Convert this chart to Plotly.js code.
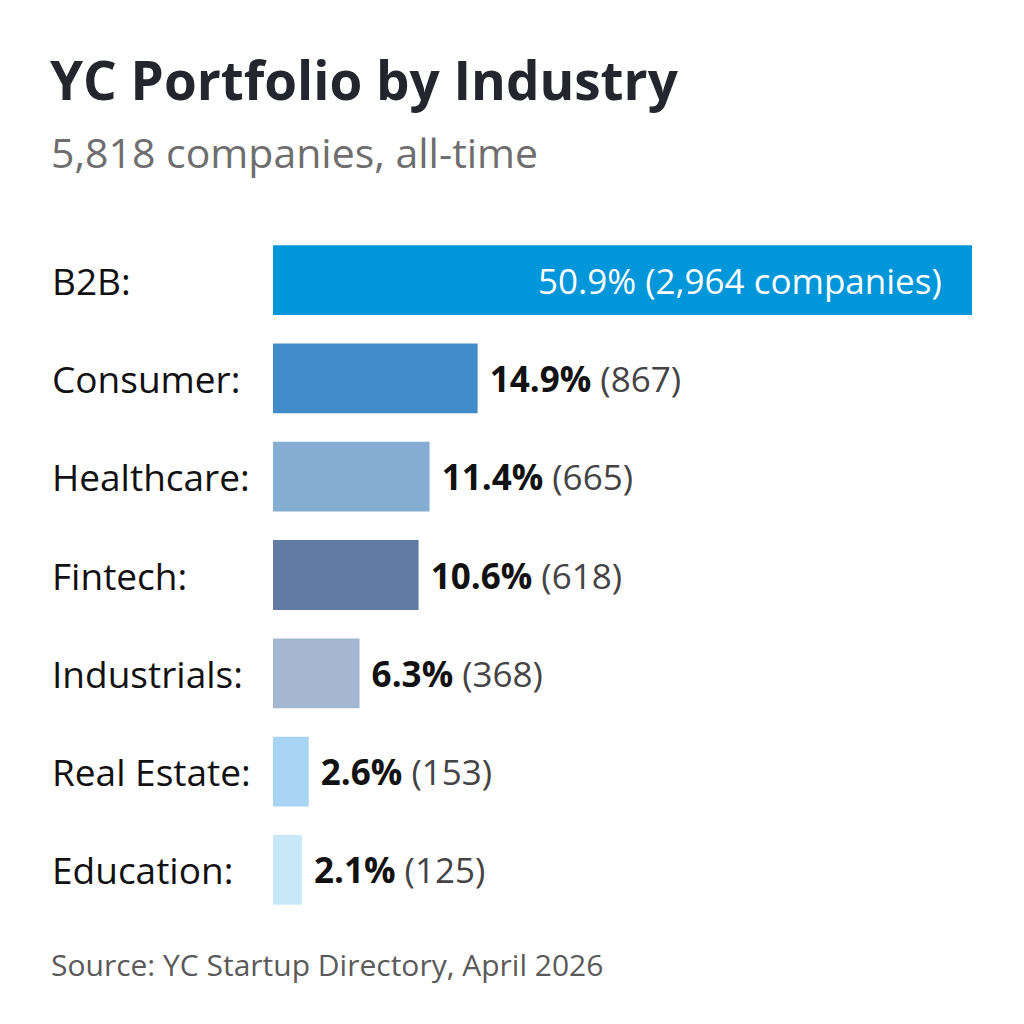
<!DOCTYPE html>
<html>
<head>
<meta charset="utf-8">
<script src="https://cdn.plot.ly/plotly-3.0.1.min.js"></script>
<style>html,body{margin:0;padding:0;background:#fff;}#chart{width:1024px;height:1024px;}</style>
</head>
<body>
<div id="chart"></div>
<script>
const categories = ["B2B", "Consumer", "Healthcare", "Fintech", "Industrials", "Real Estate", "Education"];
const shares = [50.9, 14.9, 11.4, 10.6, 6.3, 2.6, 2.1];
const counts = ["2,964", "867", "665", "618", "368", "153", "125"];
const colors = ["#0096DA", "#418BC8", "#85ADD2", "#627BA3", "#A5B6D0", "#A7D5F3", "#C8E7F8"];

const W = 1024, H = 1024;
const L = 273, R = 52, T = 231, B = 105;
const plotW = W - L - R, plotH = H - T - B;
const FONT = "Open Sans, sans-serif";
const NB = "\u00a0";

const texts = shares.map((s, i) => i === 0
  ? s.toFixed(1) + "% (" + counts[i] + " companies)" + NB + NB + NB
  : NB + "<b>" + s.toFixed(1) + "%</b> <span style='color:#444'>(" + counts[i] + ")</span>");

const trace = {
  type: "bar",
  orientation: "h",
  y: categories,
  x: shares,
  marker: {color: colors},
  width: 0.71,
  text: texts,
  textposition: shares.map((s, i) => i === 0 ? "inside" : "outside"),
  insidetextanchor: "end",
  insidetextfont: {family: FONT, size: 35, color: "#ffffff"},
  outsidetextfont: {family: FONT, size: 35, color: "#111111"},
  constraintext: "none",
  cliponaxis: false,
  hoverinfo: "none"
};

const px2paperX = px => (px - L) / plotW;
const px2paperY = py => (H - B - py) / plotH;

const annotations = categories.map(c => ({
  xref: "paper", yref: "y", x: px2paperX(50), y: c,
  xanchor: "left", yanchor: "middle", showarrow: false,
  text: c + ":", font: {family: FONT, size: 37, color: "#111111"}
}));
annotations.push({
  xref: "paper", yref: "paper", x: px2paperX(49), y: px2paperY(152),
  xanchor: "left", yanchor: "middle", showarrow: false,
  text: "5,818 companies, all-time", font: {family: FONT, size: 41, color: "#6e6e6e"}
});
annotations.push({
  xref: "paper", yref: "paper", x: px2paperX(49), y: px2paperY(965),
  xanchor: "left", yanchor: "middle", showarrow: false,
  text: "Source: YC Startup Directory, April 2026", font: {family: FONT, size: 30, color: "#5a5a5a"}
});

const layout = {
  width: W, height: H,
  margin: {l: L, r: R, t: T, b: B, pad: 0},
  paper_bgcolor: "#ffffff", plot_bgcolor: "#ffffff",
  showlegend: false,
  title: {
    text: "<b>YC Portfolio by Industry</b>",
    x: 50 / W, xanchor: "left", xref: "container",
    y: 1 - 81 / H, yanchor: "middle", yref: "container",
    font: {family: FONT, size: 53, color: "#23272d"}
  },
  xaxis: {range: [0, 50.9], visible: false, fixedrange: true},
  yaxis: {autorange: "reversed", showticklabels: false, showgrid: false, zeroline: false, ticks: "", fixedrange: true},
  bargap: 0.29,
  annotations: annotations
};

Plotly.newPlot("chart", [trace], layout, {displayModeBar: false, staticPlot: true});
</script>
</body>
</html>
